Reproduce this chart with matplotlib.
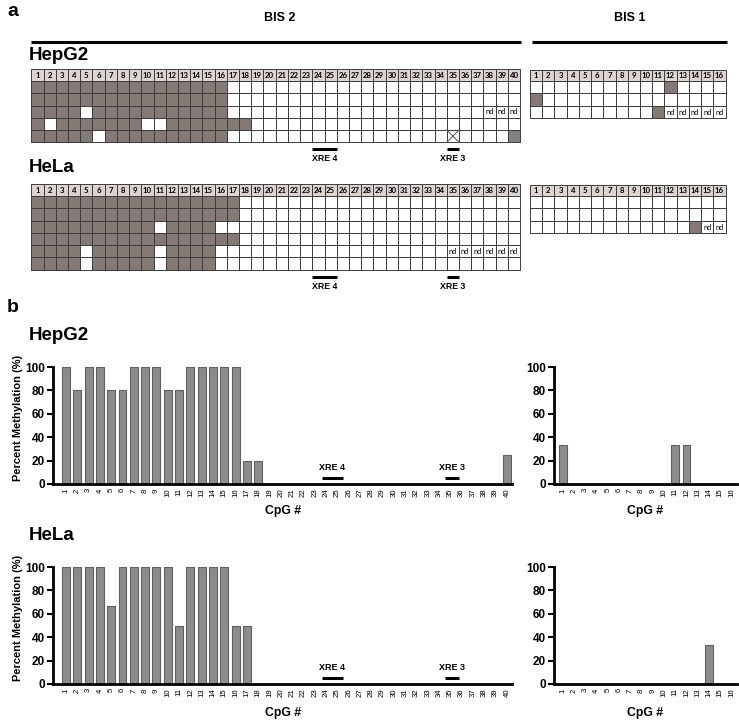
import matplotlib
matplotlib.use('Agg')
import matplotlib.pyplot as plt
from matplotlib.patches import Rectangle

W, H = 739, 721

# ---------------- data ----------------
# grid codes: 1 = methylated, 0 = unmethylated, n = not determined, x = crossed, g = grey cell
hepg2_bis2_rows = [
    "1111111111|1111110000|0000000000|0000000000",
    "1111111111|1111110000|0000000000|0000000000",
    "1111011111|1111110000|0000000000|0000000nnn",
    "1011111110|0111111100|0000000000|0000000000",
    "1111101111|1111110000|0000000000|0000x0000g",
]
hepg2_bis1_rows = [
    "00000000|00010000",
    "10000000|00000000",
    "00000000|001nnnnn",
]
hela_bis2_rows = [
    "1111111111|1111111000|0000000000|0000000000",
    "1111111111|1111111000|0000000000|0000000000",
    "1111111111|0111100000|0000000000|0000000000",
    "1111111111|1111111000|0000000000|0000000000",
    "1111011111|0111100000|0000000000|0000nnnnnn",
    "1111011111|0111100000|0000000000|0000000000",
]
hela_bis1_rows = [
    "00000000|00000000",
    "00000000|00000000",
    "00000000|000001nn",
]

cpg_bis2 = list(range(1, 41))
cpg_bis1 = list(range(1, 17))

hepg2_bis2_pct = [100, 80, 100, 100, 80, 80, 100, 100, 100, 80,
                  80, 100, 100, 100, 100, 100, 20, 20, 0, 0,
                  0, 0, 0, 0, 0, 0, 0, 0, 0, 0,
                  0, 0, 0, 0, 0, 0, 0, 0, 0, 25]
hepg2_bis1_pct = [33.3, 0, 0, 0, 0, 0, 0, 0, 0, 0, 33.3, 33.3, 0, 0, 0, 0]
hela_bis2_pct = [100, 100, 100, 100, 66.7, 100, 100, 100, 100, 100,
                 50, 100, 100, 100, 100, 50, 50, 0, 0, 0,
                 0, 0, 0, 0, 0, 0, 0, 0, 0, 0,
                 0, 0, 0, 0, 0, 0, 0, 0, 0, 0]
hela_bis1_pct = [0, 0, 0, 0, 0, 0, 0, 0, 0, 0, 0, 0, 0, 33.3, 0, 0]

xre4_cols = (24, 25)
xre3_cols = (35, 35)
xre4_bar_span = (23.6, 25.5)
xre3_bar_span = (34.5, 35.8)

# ---------------- style ----------------
METH = '#857976'
HEAD = '#ddd4d2'
GRAYC = '#808080'
LINE = '#3c3c3c'
BAR = '#8c8c8c'
BAREDGE = '#606060'
ARIAL = 'Liberation Sans'
CAL = 'Lato'

fig = plt.figure(figsize=(W / 100, H / 100), dpi=100)
ov = fig.add_axes([0, 0, 1, 1])
ov.set_xlim(0, W)
ov.set_ylim(H, 0)
ov.axis('off')

CW, HH, RH = 12.22, 11.7, 12.25


def draw_grid(x0, y0, rows):
    rows = [r.replace('|', '') for r in rows]
    n = len(rows[0])
    for j in range(n):
        ov.add_patch(Rectangle((x0 + j * CW, y0), CW, HH, fc=HEAD, ec=LINE, lw=0.7))
        ov.text(x0 + (j + 0.5) * CW, y0 + HH / 2 + 0.3, str(j + 1), ha='center', va='center',
                fontsize=5.6, fontweight='bold', family=CAL)
    for i, r in enumerate(rows):
        y = y0 + HH + i * RH
        for j, c in enumerate(r):
            fc = {'1': METH, 'g': GRAYC}.get(c, 'white')
            x = x0 + j * CW
            ov.add_patch(Rectangle((x, y), CW, RH, fc=fc, ec=LINE, lw=0.7))
            if c == 'n':
                ov.text(x + CW / 2, y + RH / 2 + 0.3, 'nd', ha='center', va='center',
                        fontsize=5.3, family=CAL)
            if c == 'x':
                ov.plot([x, x + CW], [y, y + RH], color='#555555', lw=0.7)
                ov.plot([x, x + CW], [y + RH, y], color='#555555', lw=0.7)
    return y0 + HH + len(rows) * RH


def xre_grid(x0, y_line, cols, label):
    xa = x0 + (cols[0] - 1) * CW
    xb = x0 + cols[1] * CW
    ov.plot([xa, xb], [y_line, y_line], color='black', lw=2.2, solid_capstyle='butt')
    ov.text((xa + xb) / 2, y_line + 9.5, label, ha='center', va='center',
            fontsize=6.3, fontweight='bold', family=ARIAL)


# ---------------- section a ----------------
ov.text(7, 12, 'a', fontsize=14, fontweight='bold', family=ARIAL, ha='left', va='center')
ov.text(280, 18, 'BIS 2', fontsize=9, fontweight='bold', family=ARIAL, ha='center', va='center')
ov.text(630, 18, 'BIS 1', fontsize=9, fontweight='bold', family=ARIAL, ha='center', va='center')
ov.plot([31, 521], [42, 42], color='black', lw=2.2, solid_capstyle='butt')
ov.plot([532, 727], [42, 42], color='black', lw=2.2, solid_capstyle='butt')

ov.text(29, 55, 'HepG2', fontsize=13.5, fontweight='bold', family=ARIAL, ha='left', va='center')
gx0 = 31.3
draw_grid(gx0, 69.3, hepg2_bis2_rows)
draw_grid(530, 69.5, hepg2_bis1_rows)
xre_grid(gx0, 149, xre4_cols, 'XRE 4')
xre_grid(gx0, 149, xre3_cols, 'XRE 3')

ov.text(29, 167, 'HeLa', fontsize=13.5, fontweight='bold', family=ARIAL, ha='left', va='center')
draw_grid(gx0, 184.3, hela_bis2_rows)
draw_grid(530, 184.5, hela_bis1_rows)
xre_grid(gx0, 277, xre4_cols, 'XRE 4')
xre_grid(gx0, 277, xre3_cols, 'XRE 3')

# ---------------- section b ----------------
ov.text(7, 308, 'b', fontsize=14, fontweight='bold', family=ARIAL, ha='left', va='center')
ov.text(29, 335, 'HepG2', fontsize=13.5, fontweight='bold', family=ARIAL, ha='left', va='center')
ov.text(29, 535, 'HeLa', fontsize=13.5, fontweight='bold', family=ARIAL, ha='left', va='center')


def bar_ax(l, r, t, b, x, vals, xlim, xre=False):
    ax = fig.add_axes([l / W, 1 - b / H, (r - l) / W, (b - t) / H])
    ax.bar(x, vals, width=0.7, color=BAR, edgecolor=BAREDGE, lw=0.8, zorder=2)
    ax.set_xlim(*xlim)
    ax.set_ylim(0, 100)
    ax.set_yticks(range(0, 101, 20))
    ax.set_yticklabels([str(v) for v in range(0, 101, 20)], fontsize=8.5,
                       fontweight='bold', family=ARIAL)
    ax.set_xticks(x)
    ax.set_xticklabels([str(v) for v in x], rotation=90, fontsize=5.6, family=ARIAL)
    ax.tick_params(axis='x', length=0, pad=3)
    ax.tick_params(axis='y', length=4, width=1.5, pad=2)
    for s in ('top', 'right'):
        ax.spines[s].set_visible(False)
    for s in ('left', 'bottom'):
        ax.spines[s].set_linewidth(2)
        ax.spines[s].set_zorder(3)
    ax.patch.set_alpha(0)
    if xre:
        for span, lab in ((xre4_bar_span, 'XRE 4'), (xre3_bar_span, 'XRE 3')):
            ax.plot(span, [5.5, 5.5], color='black', lw=2.2, solid_capstyle='butt', clip_on=False)
            ax.text(sum(span) / 2, 14, lab, ha='center', va='center', fontsize=6.5,
                    fontweight='bold', family=ARIAL)
    return ax


bar_ax(53, 512, 367, 484, cpg_bis2, hepg2_bis2_pct, (-0.15, 40.45), xre=True)
bar_ax(554, 737, 367, 484, cpg_bis1, hepg2_bis1_pct, (0.2, 16.5))
bar_ax(53, 512, 567, 684, cpg_bis2, hela_bis2_pct, (-0.15, 40.45), xre=True)
bar_ax(554, 737, 567, 684, cpg_bis1, hela_bis1_pct, (0.2, 16.5))

for yy in (418, 618):
    ov.text(18, yy, 'Percent Methylation (%)', rotation=90, fontsize=8, fontweight='bold',
            family=ARIAL, ha='center', va='center')
for yy in (511, 713):
    ov.text(283, yy, 'CpG #', fontsize=8.8, fontweight='bold', family=ARIAL, ha='center', va='center')
    ov.text(645, yy, 'CpG #', fontsize=8.8, fontweight='bold', family=ARIAL, ha='center', va='center')

fig.savefig('out.png', dpi=100)
